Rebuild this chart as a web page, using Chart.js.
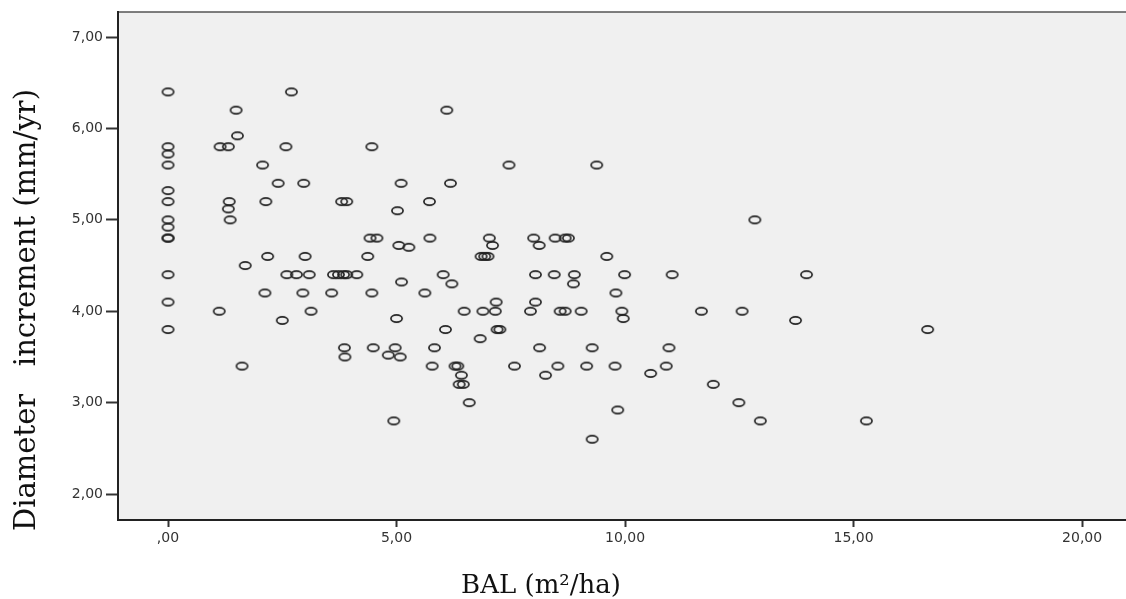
<!DOCTYPE html>
<html>
<head>
<meta charset="utf-8">
<script src="https://cdn.jsdelivr.net/npm/chart.js@4.4.1/dist/chart.umd.min.js"></script>
<style>
  body { margin: 0; background: #fff; }
</style>
</head>
<body>
<canvas id="chart" width="1126" height="599"></canvas>
<script>
// BAL (m2/ha) and diameter increment (mm/yr)
const balValues = [
  0, 0, 0, 0, 0, 0, 0, 0, 0, 0, 0, 0, 0,
  2.70, 1.49, 1.52, 1.14, 1.32, 2.58, 4.46, 2.07, 2.41, 2.97, 5.10, 1.34, 1.32, 1.36, 2.14, 3.80, 3.91, 5.02, 4.42, 4.57, 5.05,
  6.10, 7.46, 9.38, 6.18, 5.72, 5.73, 7.03, 8.00, 8.47, 8.69, 8.76, 5.27, 7.10, 8.12,
  6.85, 6.93, 7.00, 9.60, 6.02, 6.21, 5.11, 5.62, 8.04, 8.45, 8.89, 8.87, 9.99, 11.03, 9.80, 7.18, 8.04,
  6.48, 6.89, 7.16, 7.93, 8.58, 8.69, 9.04, 9.93, 9.96, 5.00, 6.07, 7.20, 7.26, 6.83, 4.97, 4.82, 5.08,
  5.83, 8.13, 9.28, 10.96, 5.78, 6.28, 6.34, 6.42, 6.37, 6.46, 7.58, 8.26, 8.53, 9.16, 9.78, 10.56, 10.90,
  6.59, 4.94, 9.84, 9.28,
  1.69, 2.18, 3.00, 4.37, 2.60, 2.81, 3.09, 3.62, 3.73, 3.84, 3.91, 4.13, 2.12, 2.95, 3.58, 4.46, 1.12, 3.13, 2.50, 3.86, 3.87, 4.49, 1.62,
  12.84, 13.97, 11.67, 12.56, 13.73, 16.62, 11.93, 12.49, 12.96, 15.28
];
const incrementValues = [
  6.4, 5.8, 5.72, 5.6, 5.32, 5.2, 5.0, 4.92, 4.8, 4.8, 4.4, 4.1, 3.8,
  6.4, 6.2, 5.92, 5.8, 5.8, 5.8, 5.8, 5.6, 5.4, 5.4, 5.4, 5.2, 5.12, 5.0, 5.2, 5.2, 5.2, 5.1, 4.8, 4.8, 4.72,
  6.2, 5.6, 5.6, 5.4, 5.2, 4.8, 4.8, 4.8, 4.8, 4.8, 4.8, 4.7, 4.72, 4.72,
  4.6, 4.6, 4.6, 4.6, 4.4, 4.3, 4.32, 4.2, 4.4, 4.4, 4.4, 4.3, 4.4, 4.4, 4.2, 4.1, 4.1,
  4.0, 4.0, 4.0, 4.0, 4.0, 4.0, 4.0, 4.0, 3.92, 3.92, 3.8, 3.8, 3.8, 3.7, 3.6, 3.52, 3.5,
  3.6, 3.6, 3.6, 3.6, 3.4, 3.4, 3.4, 3.3, 3.2, 3.2, 3.4, 3.3, 3.4, 3.4, 3.4, 3.32, 3.4,
  3.0, 2.8, 2.92, 2.6,
  4.5, 4.6, 4.6, 4.6, 4.4, 4.4, 4.4, 4.4, 4.4, 4.4, 4.4, 4.4, 4.2, 4.2, 4.2, 4.2, 4.0, 4.0, 3.9, 3.6, 3.5, 3.6, 3.4,
  5.0, 4.4, 4.0, 4.0, 3.9, 3.8, 3.2, 3.0, 2.8, 2.8
];

const xTicks = [0, 5, 10, 15, 20];
const xTickLabels = [',00', '5,00', '10,00', '15,00', '20,00'];
const yTicks = [2, 3, 4, 5, 6, 7];
const yTickLabels = ['2,00', '3,00', '4,00', '5,00', '6,00', '7,00'];

const xTitle = 'BAL (m²/ha)';
const yTitle = 'Diameter   increment (mm/yr)';

// open ellipse marker like the SPSS output
const marker = document.createElement('canvas');
marker.width = 15;
marker.height = 11;
{
  const m = marker.getContext('2d');
  m.strokeStyle = '#222';
  m.lineWidth = 1.7;
  m.beginPath();
  m.ellipse(7.5, 5.5, 5.6, 3.6, 0, 0, Math.PI * 2);
  m.stroke();
}

const plotBackground = {
  id: 'plotBackground',
  beforeDraw(chart) {
    const { ctx, chartArea: a } = chart;
    ctx.save();
    ctx.fillStyle = '#f0f0f0';
    ctx.fillRect(a.left, a.top, a.right - a.left, a.bottom - a.top);
    ctx.strokeStyle = '#555';
    ctx.lineWidth = 1.5;
    ctx.beginPath();
    ctx.moveTo(a.left, a.top);
    ctx.lineTo(a.right, a.top);
    ctx.stroke();
    ctx.restore();
  },
};

const axisTitles = {
  id: 'axisTitles',
  afterDraw(chart) {
    const { ctx } = chart;
    ctx.save();
    ctx.fillStyle = '#111';
    ctx.textAlign = 'center';
    ctx.textBaseline = 'alphabetic';
    ctx.font = '26px "DejaVu Serif"';
    ctx.fillText(xTitle, 541, 593);
    ctx.translate(35, 310);
    ctx.rotate(-Math.PI / 2);
    ctx.font = '29px "DejaVu Serif"';
    ctx.fillText(yTitle, 0, 0);
    ctx.restore();
  },
};

const tickFont = { family: '"DejaVu Sans", sans-serif', size: 14 };

new Chart(document.getElementById('chart').getContext('2d'), {
  type: 'scatter',
  data: {
    datasets: [
      {
        data: balValues.map((x, i) => ({ x: x, y: incrementValues[i] })),
        pointStyle: marker,
        showLine: false,
      },
    ],
  },
  options: {
    responsive: false,
    animation: false,
    events: [],
    layout: { autoPadding: false, padding: { top: 12, left: 0, right: 0, bottom: 0 } },
    plugins: {
      legend: { display: false },
      tooltip: { enabled: false },
    },
    scales: {
      x: {
        type: 'linear',
        min: -1.094,
        max: 20.96,
        afterBuildTicks: (s) => { s.ticks = xTicks.map((v) => ({ value: v })); },
        afterFit: (s) => { s.height = 79; },
        ticks: {
          callback: (v) => xTickLabels[xTicks.indexOf(v)],
          font: tickFont,
          color: '#333',
          padding: 3,
          maxRotation: 0,
          autoSkip: false,
        },
        grid: { drawOnChartArea: false, tickLength: 7, tickWidth: 2, tickColor: '#333' },
        border: { color: '#222', width: 2 },
      },
      y: {
        min: 1.716,
        max: 7.274,
        afterBuildTicks: (s) => { s.ticks = yTicks.map((v) => ({ value: v })); },
        afterFit: (s) => { s.width = 118; },
        ticks: {
          callback: (v) => yTickLabels[yTicks.indexOf(v)],
          font: tickFont,
          color: '#333',
          padding: 3,
          autoSkip: false,
        },
        grid: { drawOnChartArea: false, tickLength: 12, tickWidth: 2, tickColor: '#333' },
        border: { color: '#222', width: 2 },
      },
    },
  },
  plugins: [plotBackground, axisTitles],
});
</script>
</body>
</html>
